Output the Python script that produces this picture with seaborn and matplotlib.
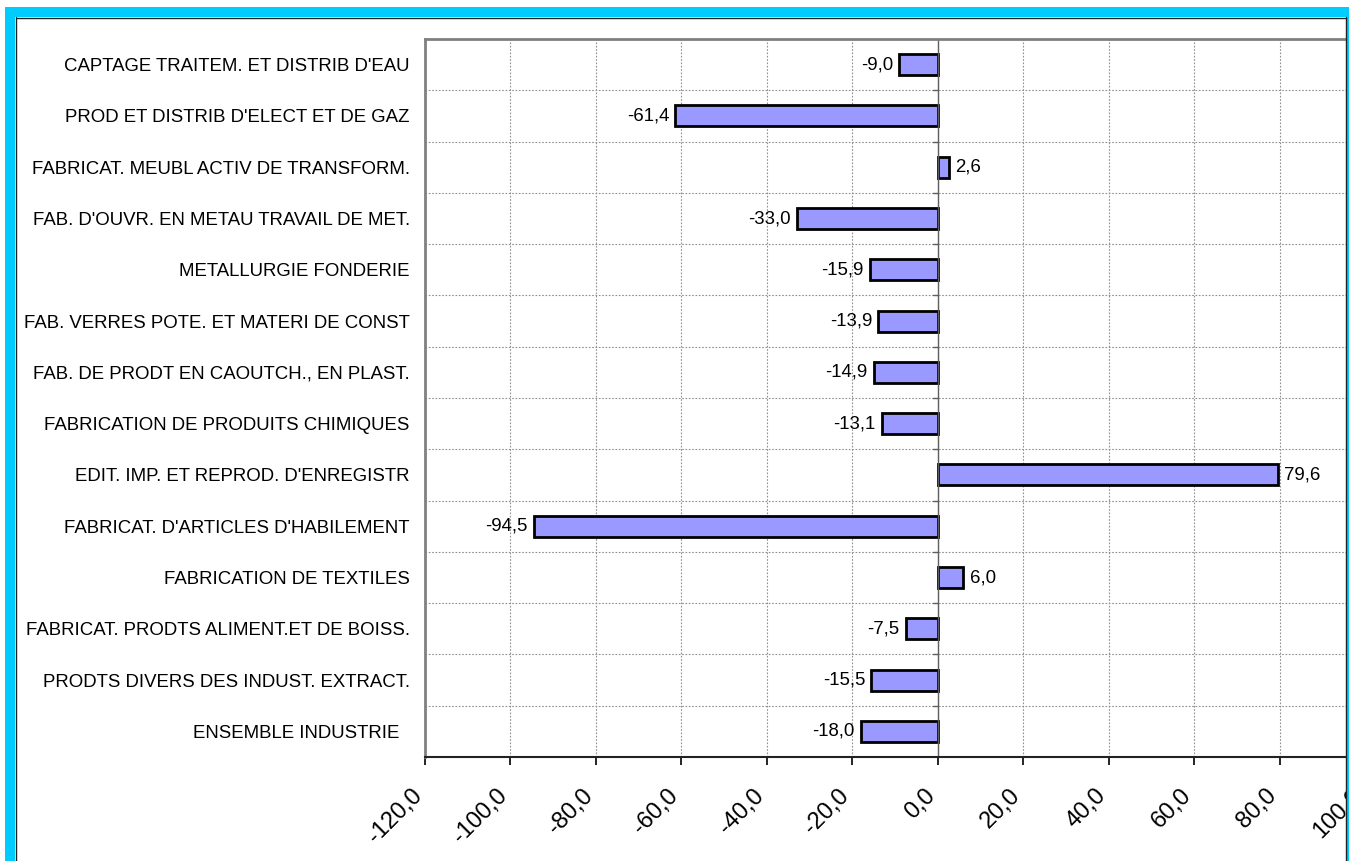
import matplotlib
matplotlib.use("Agg")
import matplotlib.pyplot as plt
import matplotlib.patches as mpatches
from matplotlib.transforms import ScaledTranslation
import seaborn as sns
import pandas as pd

# data, top to bottom
categories = [
    "CAPTAGE TRAITEM. ET DISTRIB D'EAU",
    "PROD ET DISTRIB D'ELECT ET DE GAZ",
    "FABRICAT. MEUBL ACTIV DE TRANSFORM.",
    "FAB. D'OUVR. EN METAU TRAVAIL DE MET.",
    "METALLURGIE FONDERIE",
    "FAB. VERRES POTE. ET MATERI DE CONST",
    "FAB. DE PRODT EN CAOUTCH., EN PLAST.",
    "FABRICATION DE PRODUITS CHIMIQUES",
    "EDIT. IMP. ET REPROD. D'ENREGISTR",
    "FABRICAT. D'ARTICLES D'HABILEMENT",
    "FABRICATION DE TEXTILES",
    "FABRICAT. PRODTS ALIMENT.ET DE BOISS.",
    "PRODTS DIVERS DES INDUST. EXTRACT.",
    "ENSEMBLE INDUSTRIE  ",
]
values = [-9.0, -61.4, 2.6, -33.0, -15.9, -13.9, -14.9, -13.1, 79.6, -94.5, 6.0, -7.5, -15.5, -18.0]
x_ticks = [-120, -100, -80, -60, -40, -20, 0, 20, 40, 60, 80, 100]

df = pd.DataFrame({"cat": categories, "val": values})

sns.set_theme(style="white")
plt.rcParams["font.family"] = ["Liberation Sans", "DejaVu Sans"]
plt.rcParams["text.color"] = "black"
plt.rcParams["xtick.color"] = "black"
plt.rcParams["ytick.color"] = "black"

W, H = 1349, 861
fig = plt.figure(figsize=(W / 100, H / 100), dpi=100)
fig.patch.set_facecolor("white")

# axes runs past the right edge of the figure like the reference
ax_l, ax_r, ax_t, ax_b = 425, 1365, 39, 757
ax = fig.add_axes([ax_l / W, 1 - ax_b / H, (ax_r - ax_l) / W, (ax_b - ax_t) / H])

sns.barplot(data=df, x="val", y="cat", orient="h", color="#9999FF",
            edgecolor="black", linewidth=2, width=0.41, saturation=1, ax=ax)

ax.set_xlim(-120, 100)
ax.set_ylim(len(categories) - 0.5, -0.5)
ax.set_xticks(x_ticks)
ax.set_xticklabels([f"{v:.1f}".replace(".", ",") for v in x_ticks],
                   rotation=45, ha="right", va="top", rotation_mode="anchor", fontsize=17)
ax.tick_params(axis="x", length=6, width=1.2, color="black", pad=14, direction="out", bottom=True)
ax.tick_params(axis="y", length=0, pad=11, labelsize=13.4)
ax.set_xlabel("")
ax.set_ylabel("")
# shift the rotated tick labels a little to the left, as in the reference
shift = ScaledTranslation(-14 / 100, 0, fig.dpi_scale_trans)
for lab in ax.get_xticklabels():
    lab.set_transform(lab.get_transform() + shift)

# dotted grid: vertical at ticks, horizontal at category boundaries
for v in x_ticks:
    ax.axvline(v, color="#909090", lw=0.8, ls=(0, (1.5, 1.5)), zorder=0)
for i in range(len(categories) - 1):
    ax.axhline(i + 0.5, color="#909090", lw=0.8, ls=(0, (1.5, 1.5)), zorder=0)
    ax.plot([-1.2, 0], [i + 0.5, i + 0.5], color="#606060", lw=1, zorder=1)
ax.axvline(0, color="#606060", lw=1, zorder=1)

for s in ["left", "top", "right"]:
    ax.spines[s].set_color("#808080")
    ax.spines[s].set_linewidth(2)
ax.spines["bottom"].set_color("#222222")
ax.spines["bottom"].set_linewidth(1.5)

# value labels
for i, v in enumerate(values):
    txt = f"{v:.1f}".replace(".", ",")
    if v < 0:
        ax.annotate(txt, (v, i), xytext=(-4.5, 0), textcoords="offset points",
                    ha="right", va="center", fontsize=13.4)
    else:
        ax.annotate(txt, (v, i), xytext=(4.5, 0), textcoords="offset points",
                    ha="left", va="center", fontsize=13.4)

# cyan frame around the chart
cyan = "#00CCFF"
fig.patches.append(mpatches.Rectangle((5 / W, 0), 10 / W, 1 - 7 / H, transform=fig.transFigure,
                                      facecolor=cyan, edgecolor="none", zorder=5))
fig.patches.append(mpatches.Rectangle((5 / W, 1 - 17 / H), (W - 5) / W, 10 / H, transform=fig.transFigure,
                                      facecolor=cyan, edgecolor="none", zorder=5))
fig.patches.append(mpatches.Rectangle((1346 / W, 0), 3 / W, 1 - 7 / H, transform=fig.transFigure,
                                      facecolor=cyan, edgecolor="none", zorder=5))
# thin dark inner border line
fig.add_artist(plt.Line2D([15.5 / W, 15.5 / W], [0, 1 - 17 / H], transform=fig.transFigure,
                          color="#222222", lw=1, zorder=6))
fig.add_artist(plt.Line2D([15.5 / W, 1346 / W], [1 - 17.5 / H, 1 - 17.5 / H], transform=fig.transFigure,
                          color="#222222", lw=1, zorder=6))
fig.add_artist(plt.Line2D([1345.5 / W, 1345.5 / W], [0, 1 - 17 / H], transform=fig.transFigure,
                          color="#222222", lw=1, zorder=6))

fig.savefig("out.png", dpi=100)
